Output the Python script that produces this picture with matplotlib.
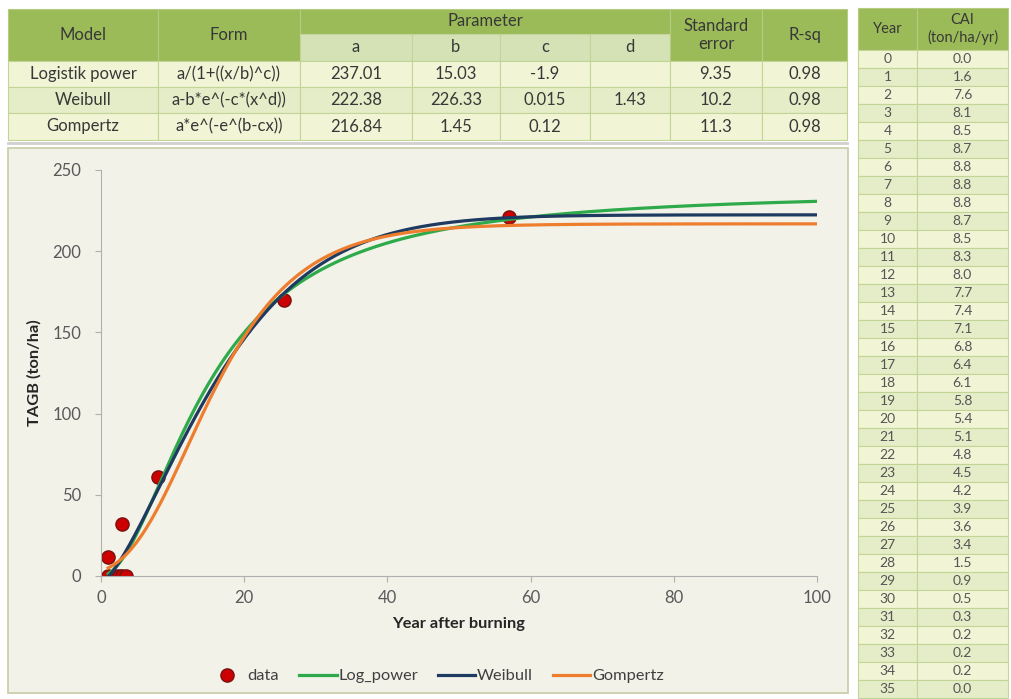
import numpy as np
import matplotlib
matplotlib.use('Agg')
import matplotlib.pyplot as plt
from matplotlib.patches import Rectangle

plt.rcParams['font.family'] = ['Lato', 'DejaVu Sans']

# Fitted model summary
model_names = ['Logistik power', 'Weibull', 'Gompertz']
model_forms = ['a/(1+((x/b)^c))', 'a-b*e^(-c*(x^d))', 'a*e^(-e^(b-cx))']
param_a = [237.01, 222.38, 216.84]
param_b = [15.03, 226.33, 1.45]
param_c = [-1.9, 0.015, 0.12]
param_d = [None, 1.43, None]
std_err = [9.35, 10.2, 11.3]
r_sq = [0.98, 0.98, 0.98]

# Current annual increment table
cai_year = list(range(36))
cai_value = [0.0, 1.6, 7.6, 8.1, 8.5, 8.7, 8.8, 8.8, 8.8, 8.7, 8.5, 8.3, 8.0, 7.7,
             7.4, 7.1, 6.8, 6.4, 6.1, 5.8, 5.4, 5.1, 4.8, 4.5, 4.2, 3.9, 3.6, 3.4,
             1.5, 0.9, 0.5, 0.3, 0.2, 0.2, 0.2, 0.0]

# Observed biomass
obs_year = [1, 2, 2.5, 3, 3.5, 1, 3, 8, 25.5, 57]
obs_tagb = [0, 0, 0, 0, 0, 12, 32, 61, 170, 221]

HDR = '#9BBB59'
SUB = '#D5E2B6'
ROWS = ['#F1F5D6', '#E4EDC7']
LINE = '#C3D596'
TXT = '#383838'

fig = plt.figure(figsize=(10.12, 6.99), dpi=100)
bg = fig.add_axes([0, 0, 1, 1])
bg.set_xlim(0, 1012)
bg.set_ylim(699, 0)
bg.axis('off')


def cell(x0, y0, x1, y1, color, text='', size=12, tcolor=TXT, edge=LINE):
    bg.add_patch(Rectangle((x0, y0), x1 - x0, y1 - y0, facecolor=color,
                           edgecolor=edge, lw=0.8))
    if text != '':
        bg.text((x0 + x1) / 2, (y0 + y1) / 2, text, ha='center', va='center',
                fontsize=size, color=tcolor, linespacing=1.2)


# model table
cx = [8, 158, 300, 412, 500, 590, 670, 762, 847]
ry = [9, 34, 61, 87, 113, 140]
hedge = '#B5CC80'
cell(cx[0], ry[0], cx[1], ry[2], HDR, 'Model', edge=hedge)
cell(cx[1], ry[0], cx[2], ry[2], HDR, 'Form', edge=hedge)
cell(cx[2], ry[0], cx[6], ry[1], HDR, 'Parameter', edge=hedge)
for i, p in enumerate(['a', 'b', 'c', 'd']):
    cell(cx[2 + i], ry[1], cx[3 + i], ry[2], SUB, p, edge='#C2D49A')
cell(cx[6], ry[0], cx[7], ry[2], HDR, 'Standard\nerror', edge=hedge)
cell(cx[7], ry[0], cx[8], ry[2], HDR, 'R-sq', edge=hedge)

for r in range(3):
    vals = [model_names[r], model_forms[r], param_a[r], param_b[r], param_c[r],
            param_d[r], std_err[r], r_sq[r]]
    for c, v in enumerate(vals):
        s = '' if v is None else str(v)
        cell(cx[c], ry[r + 2], cx[c + 1], ry[r + 3], ROWS[r % 2], s)
bg.plot([cx[0], cx[-1]], [ry[-1] + 3, ry[-1] + 3], color='#D0D0D0', lw=2)

# chart panel
bg.add_patch(Rectangle((8, 148), 840, 545, facecolor='#F2F2E9',
                       edgecolor='#C8CCA6', lw=1.2))

# CAI table
tx = [858, 917, 1008]
cell(tx[0], 8, tx[1], 50, HDR, 'Year', size=10.5, edge=hedge)
cell(tx[1], 8, tx[2], 50, HDR, 'CAI\n(ton/ha/yr)', size=10.5, edge=hedge)
rh = 18
for i, (yr, v) in enumerate(zip(cai_year, cai_value)):
    y0 = 50 + i * rh
    cell(tx[0], y0, tx[1], y0 + rh, ROWS[i % 2], str(yr), size=10, tcolor='#555555')
    cell(tx[1], y0, tx[2], y0 + rh, ROWS[i % 2], f'{v:.1f}', size=10, tcolor='#555555')

# growth curves
ax = fig.add_axes([101 / 1012, 123 / 699, 716 / 1012, 406 / 699])
ax.patch.set_alpha(0)

x = np.linspace(1, 100, 300)
log_power = param_a[0] / (1 + (x / param_b[0]) ** param_c[0])
weibull = param_a[1] - param_b[1] * np.exp(-param_c[1] * x ** param_d[1])
gompertz = param_a[2] * np.exp(-np.exp(param_b[2] - param_c[2] * x))

ax.plot(obs_year, obs_tagb, 'o', color='#CC0000', mec='#7A1010', mew=1,
        ms=9.5, label='data', zorder=2)
ax.plot(x, log_power, color='#2EAA4A', lw=2.3, label='Log_power', zorder=3)
ax.plot(x, weibull, color='#1F3A60', lw=2.3, label='Weibull', zorder=3)
ax.plot(x, gompertz, color='#EE7D2E', lw=2.3, label='Gompertz', zorder=3)

ax.set_xlim(0, 100)
ax.set_ylim(0, 250)
ax.set_xticks([0, 20, 40, 60, 80, 100])
ax.set_yticks([0, 50, 100, 150, 200, 250])
for s in ['top', 'right']:
    ax.spines[s].set_visible(False)
for s in ['left', 'bottom']:
    ax.spines[s].set_color('#B0B0B0')
ax.tick_params(axis='both', colors='#B0B0B0', labelcolor='#595959',
               labelsize=12, length=4)
ax.tick_params(axis='y', pad=10)
ax.tick_params(axis='x', pad=6)
ax.set_xlabel('Year after burning', fontsize=11.8, fontweight='bold',
              color='#262626', labelpad=8)
ax.set_ylabel('TAGB (ton/ha)', fontsize=11.8, fontweight='bold',
              color='#262626', labelpad=8)

fig.legend(loc='center', bbox_to_anchor=(436 / 1012, 1 - 676 / 699), ncol=4,
           frameon=False, fontsize=11.8, handlelength=2.3, handletextpad=0.1,
           columnspacing=1.2, labelcolor='#404040')

fig.savefig('out.png', dpi=100)
